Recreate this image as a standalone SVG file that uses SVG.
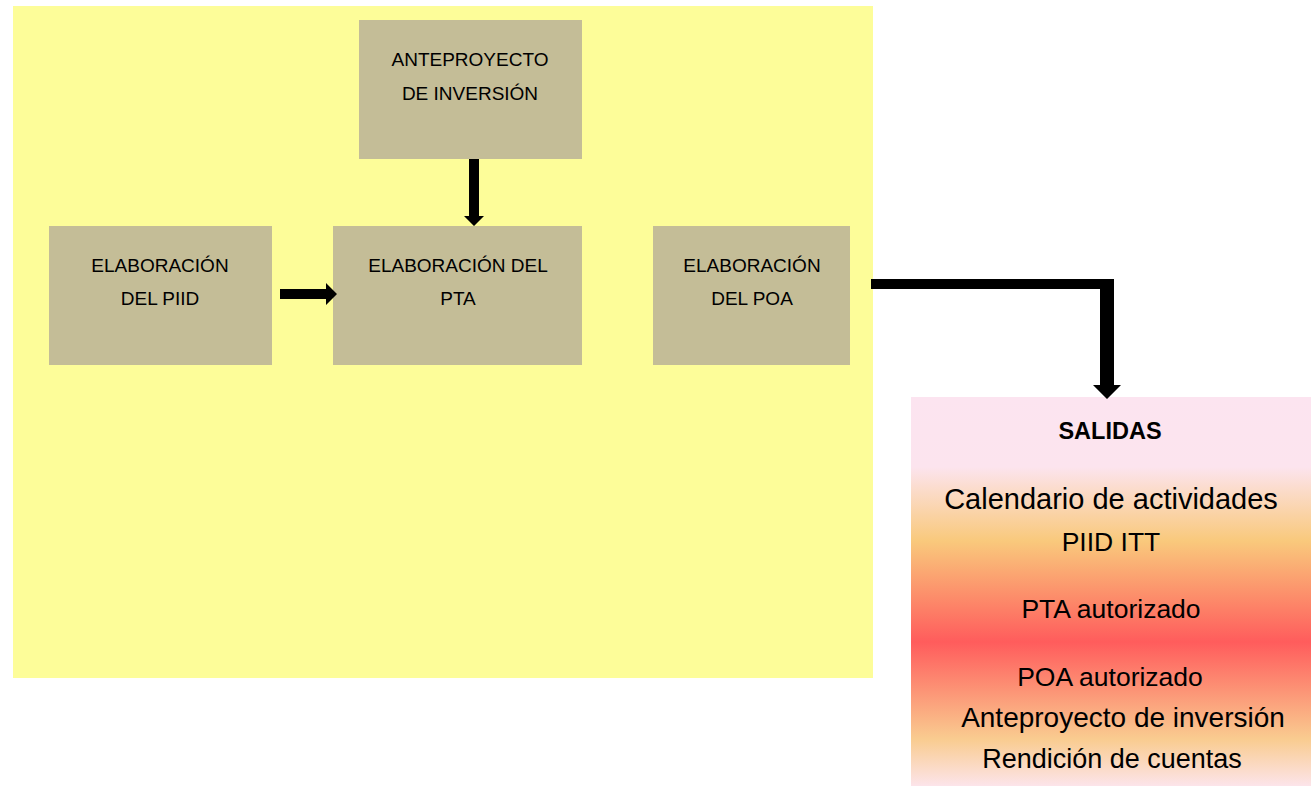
<svg xmlns="http://www.w3.org/2000/svg" width="1311" height="786" viewBox="0 0 1311 786">
<defs>
<linearGradient id="sunset" x1="0" y1="0" x2="0" y2="1">
<stop offset="0" stop-color="#FCE4F0"/>
<stop offset="0.18" stop-color="#FCE4EE"/>
<stop offset="0.37" stop-color="#F9C97C"/>
<stop offset="0.63" stop-color="#FF5C5C"/>
<stop offset="0.88" stop-color="#F9CC90"/>
<stop offset="1" stop-color="#FCE4EA"/>
</linearGradient>
</defs>
<style>
.box{fill:#C4BD97}
.lbl{font-family:"Liberation Sans",Arial,sans-serif;font-size:19px;fill:#000;text-anchor:middle}
.out{font-family:"Liberation Sans",Arial,sans-serif;font-size:26.5px;fill:#000;text-anchor:middle}
.arr{fill:#000}
</style>
<rect x="13" y="6" width="860" height="672" fill="#FDFD99"/>
<g id="anteproyecto">
<rect class="box" x="359" y="20" width="223" height="139"/>
<text class="lbl" x="470" y="66">ANTEPROYECTO</text>
<text class="lbl" x="470" y="100">DE INVERSIÓN</text>
</g>
<g id="piid">
<rect class="box" x="49" y="226" width="223" height="139"/>
<text class="lbl" x="160" y="272">ELABORACIÓN</text>
<text class="lbl" x="160" y="305">DEL PIID</text>
</g>
<g id="pta">
<rect class="box" x="333" y="226" width="249" height="139"/>
<text class="lbl" x="458" y="272">ELABORACIÓN DEL</text>
<text class="lbl" x="458" y="305">PTA</text>
</g>
<g id="poa">
<rect class="box" x="653" y="226" width="197" height="139"/>
<text class="lbl" x="752" y="272">ELABORACIÓN</text>
<text class="lbl" x="752" y="305">DEL POA</text>
</g>
<g id="salidas">
<rect x="911" y="397" width="400" height="389" fill="url(#sunset)"/>
<text x="1110" y="439" font-family="Liberation Sans,Arial,sans-serif" font-size="23.5" font-weight="bold" text-anchor="middle">SALIDAS</text>
<text class="out" x="1111" y="509" style="font-size:29px">Calendario de actividades</text>
<text class="out" x="1111" y="551">PIID ITT</text>
<text class="out" x="1111" y="618">PTA autorizado</text>
<text class="out" x="1110" y="686">POA autorizado</text>
<text class="out" x="1123" y="727" style="font-size:28px">Anteproyecto de inversión</text>
<text class="out" x="1112" y="768" style="font-size:27px">Rendición de cuentas</text>
</g>
<g id="connectors">
<polygon class="arr" points="469,159 479,159 479,216 484,216 474,226 464,216 469,216"/>
<polygon class="arr" points="280,289 326,289 326,283 337,294 326,305 326,299 280,299"/>
<polygon class="arr" points="871,279 1114,279 1114,385 1121,385 1107,399 1093,385 1100,385 1100,289 871,289"/>
</g>
</svg>
